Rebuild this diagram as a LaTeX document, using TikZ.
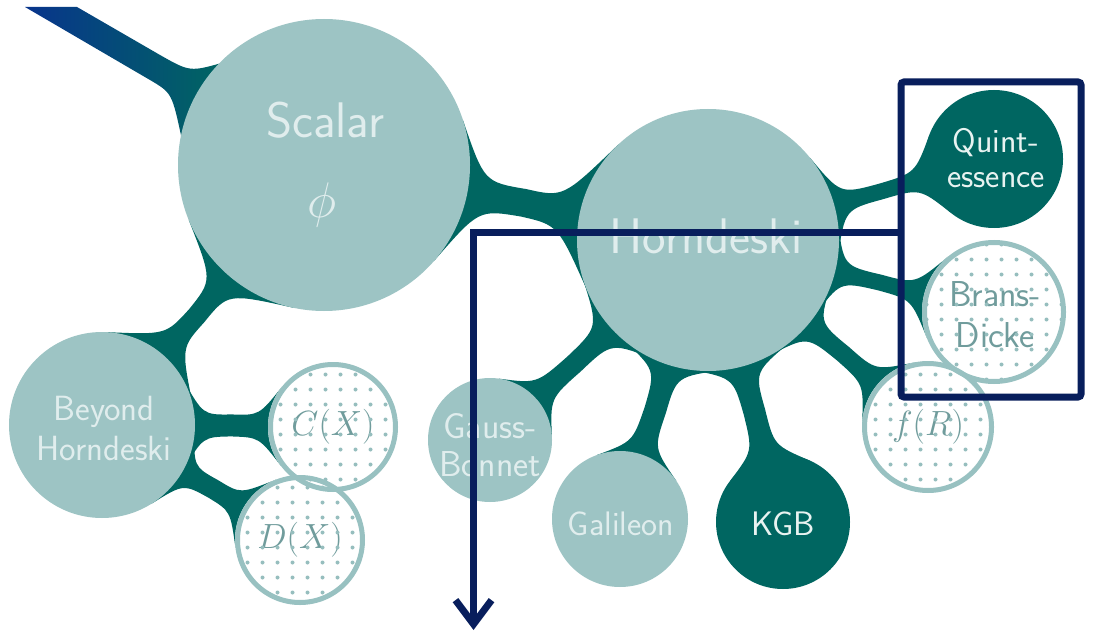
\RequirePackage{fix-cm}
\documentclass[tikz,border=0pt]{standalone}
\usepackage{fontspec}
\usetikzlibrary{calc,backgrounds,arrows.meta}
\definecolor{lightteal}{RGB}{157,196,196}
\definecolor{darkteal}{RGB}{0,102,97}
\definecolor{bandblue}{RGB}{8,52,140}
\definecolor{navy}{RGB}{8,30,92}
\definecolor{ltext}{RGB}{224,237,237}
\definecolor{dtext}{RGB}{232,243,241}
\definecolor{dottext}{RGB}{112,156,156}
\definecolor{dotline}{RGB}{152,193,193}
\definecolor{dotfill}{RGB}{150,190,190}
% #1 node A, #2 node B, #3 neck half width (number), #4 flare angle at A, #5 flare angle at B
\newcommand\linkit[5]{%
 \fill[darkteal] let \p1=($(#2)-(#1)$), \n1={atan2(\y1,\x1)}, \n2={\n1+#4}, \n3={\n1-#4},
   \n4={\n1+180-#5}, \n5={\n1+180+#5}, \n6={\n1+180},
   \p2=($(#1.east)-(#1.center)$), \p3=($(#2.east)-(#2.center)$),
   \n7={(\x2-#3*sin(#4))/cos(#4)}, \n8={(\x3-#3*sin(#5))/cos(#5)} in
 (#1.\n2) .. controls ($(#1)!\n7!(#2)!#3 pt!90:(#2)$) .. ($(#1.\n1)!0.5!(#2.\n6)!#3 pt!90:(#2)$)
   .. controls ($(#2)!\n8!(#1)!#3 pt!-90:(#1)$) .. (#2.\n4) -- (#2.\n5)
   .. controls ($(#2)!\n8!(#1)!#3 pt!90:(#1)$) .. ($(#1.\n1)!0.5!(#2.\n6)!#3 pt!-90:(#2)$)
   .. controls ($(#1)!\n7!(#2)!#3 pt!-90:(#2)$) .. (#1.\n3) -- cycle;}
\newcommand\dotgrid[2]{%
 \begin{scope}
 \clip (#1.center) circle (#2);
 \foreach \i in {-5,...,5}{\foreach \j in {-5,...,5}{
   \fill[dotfill] ($(#1.center)+(\i*15+7.5,\j*15+7.5)$) circle (2pt);}}
 \end{scope}}
\begin{document}
\begin{tikzpicture}[x=1pt,y=-1pt,
  bub/.style={circle, inner sep=0pt, outer sep=0pt},
  lightc/.style={bub, fill=lightteal},
  darkc/.style={bub, fill=darkteal},
  dotc/.style={bub, fill=white},
  dotring/.style={draw=dotline, line width=5pt},
  lbl/.style={text=ltext, font=\sffamily\fontsize{34}{38}\selectfont, align=center, inner sep=0pt},
  dlbl/.style={text=dtext, font=\sffamily\fontsize{34}{35}\selectfont, align=center, inner sep=0pt},
  plbl/.style={text=dottext, font=\sffamily\fontsize{36}{41}\selectfont, align=center, inner sep=0pt},
  navyline/.style={draw=navy, line width=7pt}]
\useasboundingbox (0,0) rectangle (1097,639);
% bubbles
\node[lightc, minimum size=292pt] (scalar) at (324,165) {};
\node[lightc, minimum size=262pt] (horn) at (708,240) {};
\node[darkc, minimum size=138pt] (quint) at (994,159) {};
\node[dotc, minimum size=132pt] (fr) at (928,427) {};
\node[dotc, minimum size=144pt] (bd) at (994,312) {};
\node[darkc, minimum size=134pt] (kgb) at (783,522) {};
\node[lightc, minimum size=136pt] (gal) at (620,519) {};
\node[lightc, minimum size=124pt] (gb) at (490,440) {};
\node[lightc, minimum size=186pt] (beyond) at (102,425) {};
\node[dotc, minimum size=130pt] (cx) at (333,427) {};
\node[dotc, minimum size=130pt] (dx) at (300,540) {};
% links
\begin{pgfonlayer}{background}
\fill[white] (0,0) rectangle (1097,639);
\shade[left color=bandblue, right color=darkteal]
  (25,7) -- (77,7) -- (160,55) .. controls (190,72) .. (225,62)
  -- (182,140) .. controls (172,93) .. (150,80) -- cycle;
\linkit{scalar}{horn}{14}{30}{35}
\linkit{scalar}{beyond}{10}{28}{38}
\linkit{beyond}{cx}{11}{30}{38}
\linkit{beyond}{dx}{10}{28}{38}
\linkit{horn}{quint}{8}{24}{36}
\linkit{horn}{bd}{8}{22}{36}
\linkit{horn}{fr}{9}{22}{38}
\linkit{horn}{kgb}{11}{25}{38}
\linkit{horn}{gal}{11}{25}{38}
\linkit{horn}{gb}{10}{25}{40}
\end{pgfonlayer}
% labels
\node[lbl, font=\sffamily\fontsize{50}{55}\selectfont, anchor=base] (tscalar) at (325,138) {Scalar};
\node[lbl, font=\fontsize{50}{55}\selectfont, anchor=base] (tphi) at (322,217) {$\phi$};
\node[lbl, font=\sffamily\fontsize{50}{55}\selectfont, anchor=base] (thorn) at (706,253) {Horndeski};
\node[lbl, font=\sffamily\fontsize{35}{40}\selectfont] (tbeyond) at (104,428) {Beyond\\Horndeski};
\node[lbl, font=\sffamily\fontsize{36}{38}\selectfont] (tgb) at (490,445) {Gauss-\\Bonnet};
\node[lbl, anchor=base] (tgal) at (621,535) {Galileon};
\node[dlbl, anchor=base] (tkgb) at (783,535) {KGB};
\node[dlbl] (tquint) at (996,158) {Quint-\\essence};
\node[plbl] (tbd) at (995,315) {Brans-\\Dicke};
\node[plbl, font=\fontsize{35}{40}\selectfont] (tfr) at (928,427) {$f(R)$};
\node[plbl, font=\fontsize{35}{40}\selectfont] (tcx) at (333,427) {$C(X)$};
\node[plbl, font=\fontsize{35}{40}\selectfont] (tdx) at (300,540) {$D(X)$};
% dots and rings
\dotgrid{cx}{62pt}
\dotgrid{dx}{62pt}
\dotgrid{bd}{69pt}
\dotgrid{fr}{63pt}
\draw[dotring] (cx.center) circle (62.5pt);
\draw[dotring] (dx.center) circle (62.5pt);
\draw[dotring] (fr.center) circle (63.5pt);
\draw[dotring] (bd.center) circle (69.5pt);
% navy frame and arrow
\node[navyline, bub, rectangle, rounded corners=3pt, minimum width=180pt, minimum height=315pt] (box) at (991,239.5) {};
\coordinate (a0) at (901,232);
\coordinate (a1) at (473.5,630);
\draw[navyline, -{Straight Barb[length=24pt,width=36pt]}] (a0) -| (a1);
\end{tikzpicture}
\end{document}
